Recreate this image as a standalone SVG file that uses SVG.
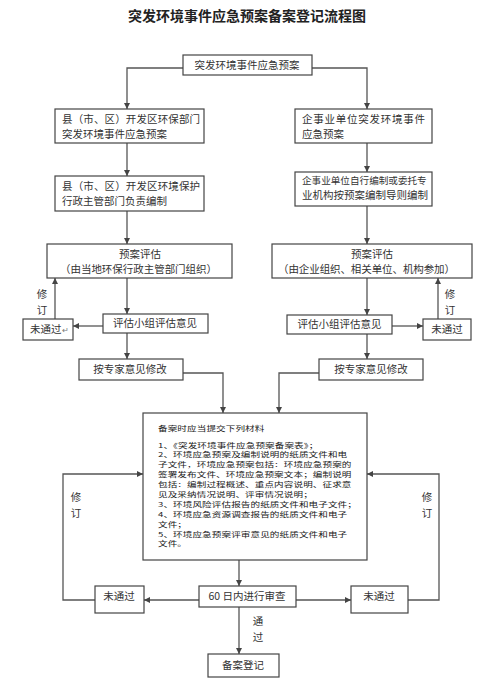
<svg xmlns="http://www.w3.org/2000/svg" width="500" height="698" viewBox="0 0 500 698">
<style>
.bx{fill:#fff;stroke:#444;stroke-width:1.2}
.ln{fill:none;stroke:#555;stroke-width:1.3}
.t{font-family:"Noto Sans CJK SC","Noto Sans",sans-serif;font-size:10.5px;fill:#333}
.c{text-anchor:middle}
.b{font-family:"Noto Sans CJK SC",sans-serif;font-size:9.6px;letter-spacing:0.1px;fill:#1a1a1a}
.title{font-family:"Noto Sans CJK SC",sans-serif;font-size:14px;font-weight:bold;fill:#222;text-anchor:middle}
</style>
<defs>
<marker id="ar" markerUnits="userSpaceOnUse" markerWidth="7" markerHeight="7" refX="6" refY="3" orient="auto">
<path d="M0,0 L6,3 L0,6 Z" fill="#444"/>
</marker>
</defs>
<rect width="500" height="698" fill="#fff"/>
<text class="title" x="247" y="21">突发环境事件应急预案备案登记流程图</text>

<g id="connectors">
<path class="ln" d="M183,68 H127 V109" marker-end="url(#ar)"/>
<path class="ln" d="M312,68 H367 V109" marker-end="url(#ar)"/>
<path class="ln" d="M127,143 V176" marker-end="url(#ar)"/>
<path class="ln" d="M127,211 V244" marker-end="url(#ar)"/>
<path class="ln" d="M127,278 V314" marker-end="url(#ar)"/>
<path class="ln" d="M127,333 V359" marker-end="url(#ar)"/>
<path class="ln" d="M103,326 H73" marker-end="url(#ar)"/>
<path class="ln" d="M55,319 V278" marker-end="url(#ar)"/>
<path class="ln" d="M183,373 H223 V413" marker-end="url(#ar)"/>
<path class="ln" d="M367,143 V172" marker-end="url(#ar)"/>
<path class="ln" d="M367,206 V244" marker-end="url(#ar)"/>
<path class="ln" d="M367,278 V315" marker-end="url(#ar)"/>
<path class="ln" d="M367,334 V359" marker-end="url(#ar)"/>
<path class="ln" d="M392,326 H423" marker-end="url(#ar)"/>
<path class="ln" d="M438,319 V278" marker-end="url(#ar)"/>
<path class="ln" d="M319,373 H279 V413" marker-end="url(#ar)"/>
<path class="ln" d="M239,560 V586" marker-end="url(#ar)"/>
<path class="ln" d="M199,600 H144" marker-end="url(#ar)"/>
<path class="ln" d="M296,600 H351" marker-end="url(#ar)"/>
<path class="ln" d="M95,600 H63 V474 H143" marker-end="url(#ar)"/>
<path class="ln" d="M408,600 H439 V474 H367" marker-end="url(#ar)"/>
<path class="ln" d="M239,607 V654" marker-end="url(#ar)"/>
<text class="t c" x="42" y="298">修</text>
<text class="t c" x="42" y="314">订</text>
<text class="t c" x="450" y="298">修</text>
<text class="t c" x="450" y="314">订</text>
<text class="t c" x="76" y="501">修</text>
<text class="t c" x="76" y="517">订</text>
<text class="t c" x="427" y="501">修</text>
<text class="t c" x="427" y="517">订</text>
<text class="t c" x="258" y="625">通</text>
<text class="t c" x="258" y="641">过</text>
</g>

<g id="n-top">
<rect class="bx" x="183" y="55" width="129" height="20"/>
<text class="t c" x="247" y="69">突发环境事件应急预案</text>
</g>

<g id="n-l1">
<rect class="bx" x="55" y="109" width="149" height="34"/>
<text class="t" x="62" y="122.5" textLength="138">县（市、区）开发区环保部门</text>
<text class="t" x="62" y="137.8">突发环境事件应急预案</text>
</g>
<g id="n-l2">
<rect class="bx" x="55" y="176" width="149" height="35"/>
<text class="t" x="62" y="189.5" textLength="138">县（市、区）开发区环境保护</text>
<text class="t" x="62" y="204.8">行政主管部门负责编制</text>
</g>
<g id="n-l3">
<rect class="bx" x="47" y="244" width="185" height="34"/>
<text class="t c" x="140" y="257.5">预案评估</text>
<text class="t" x="60" y="272.8" textLength="157">（由当地环保行政主管部门组织）</text>
</g>
<g id="n-l4">
<rect class="bx" x="103" y="314" width="105" height="19"/>
<text class="t c" x="155" y="327">评估小组评估意见</text>
</g>
<g id="n-l5">
<rect class="bx" x="23" y="319" width="50" height="21"/>
<text class="t" x="30" y="333">未通过<tspan font-size="8" fill="#777">↵</tspan></text>
</g>
<g id="n-l6">
<rect class="bx" x="79" y="359" width="104" height="21"/>
<text class="t c" x="130" y="373">按专家意见修改</text>
</g>

<g id="n-r1">
<rect class="bx" x="295" y="109" width="137" height="34"/>
<text class="t" x="302" y="122.5" textLength="123">企事业单位突发环境事件</text>
<text class="t" x="302" y="137.8">应急预案</text>
</g>
<g id="n-r2">
<rect class="bx" x="295" y="172" width="137" height="34"/>
<text class="t" x="302" y="184" style="font-size:9.6px">企事业单位自行编制或委托专</text>
<text class="t" x="302" y="199.4">业机构按预案编制导则编制</text>
</g>
<g id="n-r3">
<rect class="bx" x="272" y="244" width="200" height="34"/>
<text class="t c" x="372" y="257.5">预案评估</text>
<text class="t" x="278" y="272.8" textLength="177">（由企业组织、相关单位、机构参加）</text>
</g>
<g id="n-r4">
<rect class="bx" x="287" y="315" width="105" height="19"/>
<text class="t c" x="339.5" y="328">评估小组评估意见</text>
</g>
<g id="n-r5">
<rect class="bx" x="423" y="319" width="48" height="21"/>
<text class="t c" x="447" y="333">未通过</text>
</g>
<g id="n-r6">
<rect class="bx" x="319" y="359" width="104" height="21"/>
<text class="t c" x="371" y="373">按专家意见修改</text>
</g>

<g id="n-materials">
<rect class="bx" x="143" y="413" width="224" height="147"/>
<g transform="scale(1,0.7)">
<text class="b" x="158" y="616.4">备案时应当提交下列材料</text>
<text class="b" x="158" y="639.3">1、《突发环境事件应急预案备案表》；</text>
<text class="b" x="158" y="653.4">2、环境应急预案及编制说明的纸质文件和电</text>
<text class="b" x="158" y="667.6">子文件，环境应急预案包括：环境应急预案的</text>
<text class="b" x="158" y="681.7">签署发布文件、环境应急预案文本；编制说明</text>
<text class="b" x="158" y="695.9">包括：编制过程概述、重点内容说明、征求意</text>
<text class="b" x="158" y="710">见及采纳情况说明、评审情况说明；</text>
<text class="b" x="158" y="724.1">3、环境风险评估报告的纸质文件和电子文件；</text>
<text class="b" x="158" y="738.3">4、环境应急资源调查报告的纸质文件和电子</text>
<text class="b" x="158" y="752.4">文件；</text>
<text class="b" x="158" y="766.6">5、环境应急预案评审意见的纸质文件和电子</text>
<text class="b" x="158" y="780.7">文件。</text>
</g>
</g>

<g id="n-review">
<rect class="bx" x="199" y="586" width="97" height="21"/>
<text class="t c" x="247" y="600">60 日内进行审查</text>
</g>
<g id="n-fail-l">
<rect class="bx" x="95" y="586" width="49" height="27"/>
<text class="t c" x="119" y="600">未通过</text>
</g>
<g id="n-fail-r">
<rect class="bx" x="351" y="586" width="57" height="27"/>
<text class="t c" x="379" y="600">未通过</text>
</g>
<g id="n-register">
<rect class="bx" x="208" y="654" width="71" height="23"/>
<text class="t c" x="243" y="669">备案登记</text>
</g>
</svg>
